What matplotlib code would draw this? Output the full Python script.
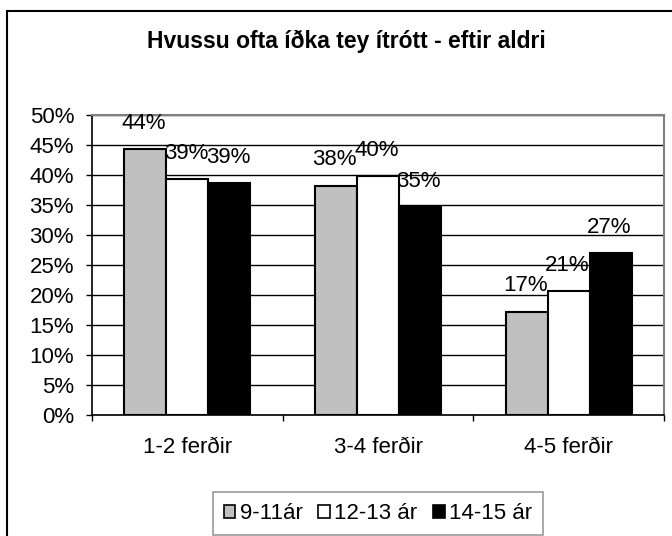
import numpy as np
import matplotlib
matplotlib.use("Agg")
import matplotlib.pyplot as plt
from matplotlib.patches import Rectangle
from matplotlib.ticker import FuncFormatter, FixedLocator

plt.rcParams['font.family'] = ['Liberation Sans', 'DejaVu Sans']

# data
categories = ['1-2 ferðir', '3-4 ferðir', '4-5 ferðir']
series_names = ['9-11ár', '12-13 ár', '14-15 ár']
values = {
    '9-11ár':   [0.443, 0.382, 0.172],
    '12-13 ár': [0.393, 0.398, 0.206],
    '14-15 ár': [0.386, 0.346, 0.270],
}
bar_labels = {
    '9-11ár':   ['44%', '38%', '17%'],
    '12-13 ár': ['39%', '40%', '21%'],
    '14-15 ár': ['39%', '35%', '27%'],
}
colors = ['#C0C0C0', '#FFFFFF', '#000000']
title = 'Hvussu ofta íðka tey ítrótt - eftir aldri'

W, H = 672, 536
fs = 16
fig = plt.figure(figsize=(W / 100, H / 100), dpi=100)

# outer chart frame (cropped on right/bottom)
fig.patches.append(Rectangle((7 / W, -0.1), 1.2, (H - 11) / H + 0.1,
                             transform=fig.transFigure, fill=False,
                             edgecolor='black', linewidth=1.5))

ax = fig.add_axes([92 / W, 1 - 415 / H, (664 - 92) / W, 300 / H])

x = np.arange(len(categories))
bw = 0.22
for i, name in enumerate(series_names):
    xs = x + (i - 1) * bw
    ax.bar(xs, values[name], width=bw, color=colors[i], edgecolor='black',
           linewidth=1.5, zorder=3, label=name)
    for xi, v, lab in zip(xs, values[name], bar_labels[name]):
        ax.annotate(lab, (xi, v), xytext=(-1, 18.7), textcoords='offset points',
                    ha='center', va='center', fontsize=fs, zorder=4)

ax.set_xlim(-0.5, len(categories) - 0.5)
ax.set_ylim(0, 0.5)
ax.set_yticks(np.arange(0, 0.51, 0.05))
ax.yaxis.set_major_formatter(FuncFormatter(lambda v, p: f'{v * 100:.0f}%'))
ax.tick_params(axis='y', direction='out', length=4.3, width=1, pad=8.6,
               labelsize=fs, color='black')

ax.xaxis.set_major_locator(FixedLocator(np.arange(-0.5, len(categories), 1.0)))
ax.xaxis.set_minor_locator(FixedLocator(x))
ax.set_xticklabels([], minor=False)
ax.set_xticklabels(categories, minor=True)
ax.tick_params(axis='x', which='major', direction='out', length=4.3, width=1)
ax.tick_params(axis='x', which='minor', length=0, pad=15.5, labelsize=fs)

ax.grid(axis='y', color='black', linewidth=1, zorder=0)
ax.set_axisbelow(True)
for s in ['top', 'right']:
    ax.spines[s].set_color('#808080')
    ax.spines[s].set_linewidth(1.5)
for s in ['left', 'bottom']:
    ax.spines[s].set_color('black')
    ax.spines[s].set_linewidth(1.2)
ax.spines['bottom'].set_zorder(5)

fig.text(346 / W, 1 - 41 / H, title, ha='center', va='center',
         fontsize=16.5, fontweight='bold')

leg = fig.legend(loc='center', bbox_to_anchor=(378 / W, 1 - 513.5 / H),
                 ncol=3, fontsize=fs, frameon=True, fancybox=False,
                 handlelength=0.52, handleheight=0.52, handletextpad=0.2,
                 columnspacing=0.7, borderpad=0.5, borderaxespad=0)
leg.get_frame().set_edgecolor('#808080')
leg.get_frame().set_linewidth(1.2)
for h in leg.legend_handles:
    h.set_linewidth(1.2)

fig.savefig('out.png', dpi=100)
